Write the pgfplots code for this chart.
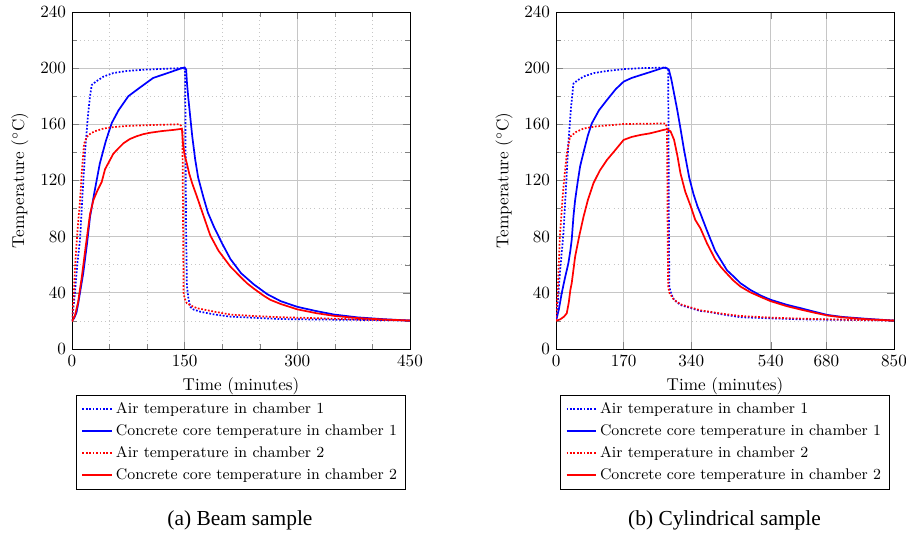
\documentclass[border=0pt]{standalone}
\usepackage{fontspec}
\newfontfamily\capfont{Liberation Serif}
\usepackage{pgfplots}
\pgfplotsset{compat=1.18}

\pgfplotsset{
  tempaxis/.style={
    scale only axis,width=197.4pt,height=196.8pt,
    ymin=0,ymax=240,ytick={0,40,...,240},minor y tick num=1,
    grid=both,
    major grid style={gray!45},
    minor grid style={dotted,gray!45},
    xlabel={Time (minutes)},
    ylabel={Temperature ($^\circ$C)},
    cycle list={
      {blue,line width=1pt,densely dotted},
      {blue,line width=1pt},
      {red,line width=1pt,densely dotted},
      {red,line width=1pt}},
    legend entries={Air temperature in chamber 1,
      Concrete core temperature in chamber 1,
      Air temperature in chamber 2,
      Concrete core temperature in chamber 2},
    legend cell align=left,
    legend style={at={(0.5,-0.137)},anchor=north,draw=black,
      font=\fontsize{9}{11}\selectfont,row sep=1pt},
  },
}

\begin{document}
\begin{tikzpicture}
% (a) beam sample
\begin{axis}[tempaxis,at={(0pt,0pt)},anchor=south west,
  xmin=0,xmax=450,xtick={0,150,300,450},minor x tick num=2]
\addplot coordinates {
 (0,20) (2,30) (4,40) (7,60) (10.7,78) (14,110) (17.4,140) (21,165) (24,180)
 (26.3,188) (32,190.5) (42,194) (55,196.5) (73,198) (100,199) (130,199.7)
 (149,200) (150.5,199) (151,170) (151.5,120) (152,80) (153,45) (155,36)
 (157.5,30) (162,28) (171,26.5) (190,24.5) (211,23) (250,22) (278,21.3)
 (320,21) (380,20.7) (450,20.2)};
\addplot coordinates {
 (0,20) (3,22) (6,26) (8.5,33) (10,38) (15,54) (20,75) (24,94) (30,112) (37,132)
 (45,148) (53,161) (62,170) (75,180) (90,186) (108,193) (130,197) (146,200)
 (150,200.5) (152,199) (153,190) (155,178) (157.5,165) (160,152) (164,135)
 (168,122) (175,108) (181,97) (189,87) (200,75) (211,64) (225,54) (242,46)
 (260,39) (278,34) (300,30) (325,27) (349,24.5) (380,22.5) (415,21.2) (450,20.2)};
\addplot coordinates {
 (0,20) (2,35) (4,58) (7,82) (10.7,106) (13,125) (16,146) (19,150) (22,152.5)
 (30,155) (42,157) (55,158) (73,158.8) (100,159.4) (142,160) (145,159.2)
 (147,156) (147.5,120) (148,80) (148.6,40) (150,36) (153,32.5) (160,30.5)
 (166.5,29) (190,26.5) (211,24.5) (240,23.5) (278,22.6) (320,22) (380,21)
 (450,20.2)};
\addplot coordinates {
 (0,19.5) (4,24) (8,33) (13,51) (18,72) (24,96) (28.5,106) (34,113) (39.6,119)
 (44,128) (50,134) (55,139) (62,143) (68.5,146.5) (77,149.5) (86,151.5)
 (95,153) (104,154) (120,155.2) (135,156) (145,156.7) (146.5,156) (148,145)
 (150,138) (153,132) (156,125) (160,118) (166,109) (175,95) (184,81) (195,70)
 (211,58.6) (225,51) (233,46.8) (242,43) (255,38) (264,35) (278,32) (300,28.2)
 (325,25.5) (350,23.5) (380,22) (415,21) (450,20.2)};
\end{axis}

% (b) cylindrical sample
\begin{axis}[tempaxis,at={(282.7pt,0pt)},anchor=south west,
  xmin=0,xmax=850,xtick={0,170,340,540,680,850}]
\addplot coordinates {
 (0,20.5) (5,35) (10,55) (18.5,82) (25,115) (31,146.5) (37,170) (43.8,189)
 (55,191.5) (69,194) (95,196.5) (128,198) (170,199.3) (212,200) (275,200.4)
 (282,199) (283,150) (284,80) (285,44) (290,39) (296.8,35) (313,31.3) (340,29)
 (363,27) (380,26.6) (420,24.5) (464,22.6) (540,21.8) (616,21.1) (700,20.8)
 (850,20.2)};
\addplot coordinates {
 (0,20) (7,28) (14.3,39.7) (22,50) (31,61) (36,70) (39.5,78) (44,95) (48,106)
 (54,118) (60.5,130) (70,141) (80,152) (90,160.7) (108,170) (128,177.3)
 (150,185) (170,190.4) (190,193) (212,195) (240,197.5) (271,200.4) (280,199.8)
 (284,198.7) (290,192) (296.8,182) (305,170) (313,157) (322,141.7) (335,122)
 (346,110) (356,101.4) (363,96.6) (380,84) (400,70) (414,63.4) (430,56)
 (447,51.5) (464,46.8) (489,42) (515,38) (540,35) (580,31.5) (616,29)
 (650,26.5) (683,24.2) (720,22.8) (780,21.5) (850,20.2)};
\addplot coordinates {
 (0,20) (4,40) (10,82) (17,110) (22,125) (27,139) (35,151) (50,154.5) (69,157)
 (100,158.5) (170,160.2) (275,160.6) (279,158) (280,120) (281,70) (282,45)
 (285,40) (296.8,35) (313,31.8) (363,27.5) (420,25) (464,23.5) (540,22.3)
 (616,21.6) (700,21) (850,20.2)};
\addplot coordinates {
 (0,20) (10,21) (20,23) (27,25.4) (32,33) (36,42) (39.5,47) (48,65.7) (58,80)
 (69,94) (80,106) (94,118) (110,127) (128,134.6) (150,142) (170,148.9)
 (190,151) (212,152.4) (235,153.5) (254,154.8) (270,156) (279,156.5)
 (288,155) (296.8,149) (305,138) (313,125) (325,112) (339,101.4) (350,92)
 (363,86) (380,75) (400,64) (414,58.6) (422,56) (445,49) (464,44.4) (489,40.3)
 (515,37) (540,34) (580,30.5) (616,28) (650,25.8) (683,23.8) (720,22.5)
 (780,21.2) (850,20.2)};
\end{axis}

\node[font=\capfont\fontsize{12.5}{14}\selectfont] at (98.1pt,-99.9pt) {(a) Beam sample};
\node[font=\capfont\fontsize{12.5}{14}\selectfont] at (381.1pt,-99.9pt) {(b) Cylindrical sample};

% page frame (906x537 px at 0.584pt/px), set after everything is drawn
\pgfresetboundingbox
\useasboundingbox (-42.05pt,-109.8pt) rectangle (487.1pt,203.8pt);
\end{tikzpicture}
\end{document}
